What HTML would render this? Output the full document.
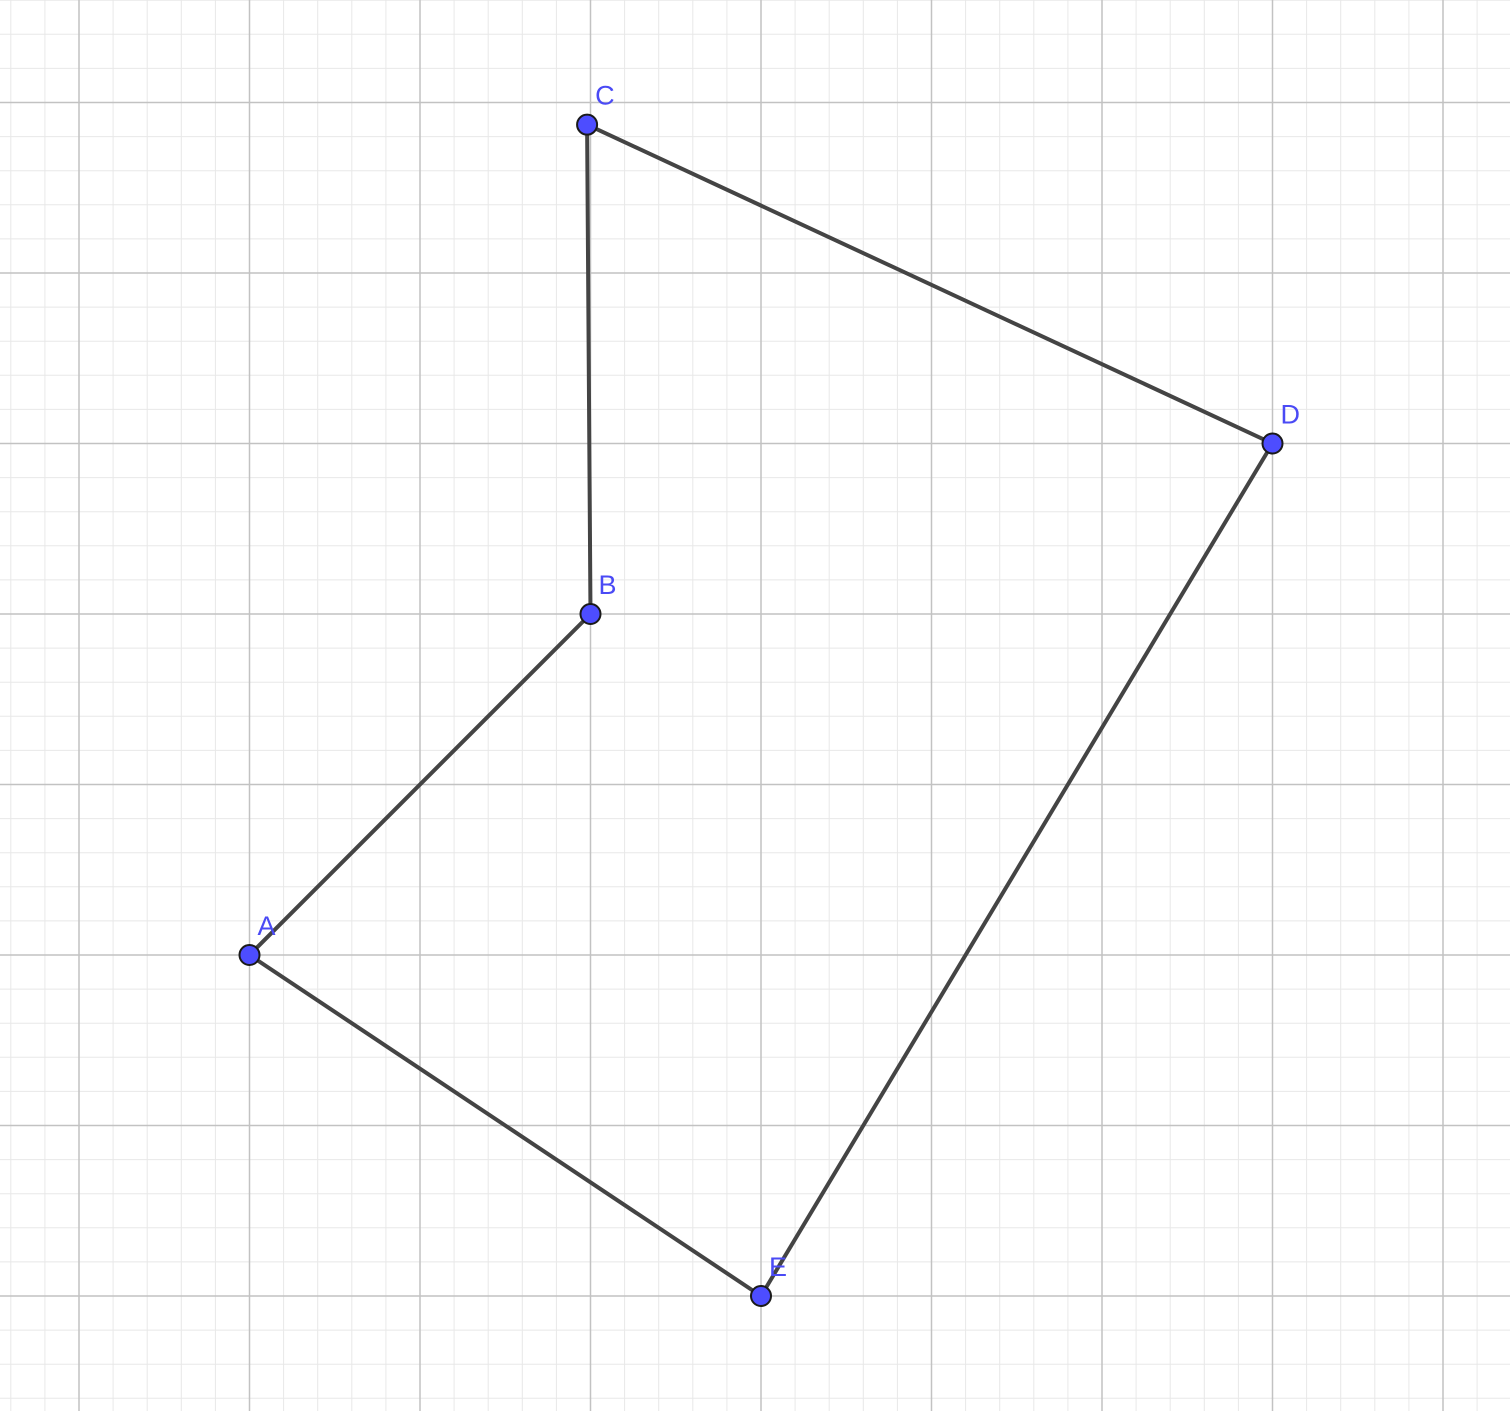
<!DOCTYPE html>
<html>
<head>
<meta charset="utf-8">
<style>
html,body{margin:0;padding:0;background:#fff;}
svg{display:block;}
</style>
</head>
<body>
<svg id="chart" width="1510" height="1411" xmlns="http://www.w3.org/2000/svg">
<g id="grid-minor"></g>
<g id="grid-major"></g>
<g id="segments"></g>
<g id="points"></g>
</svg>
<script>
const pointNames = ["A","B","C","D","E"];
const pointX = [1, 3, 2.98, 7, 4];
const pointY = [2, 4, 6.87, 5.0, 0];
const order = [0,1,2,3,4];

const unit = 170.5;
const originX = 79;
const originY = 1296;
const W = 1510, H = 1411;
const sx = v => originX + v * unit;
const sy = v => originY - v * unit;
const NS = "http://www.w3.org/2000/svg";

function mk(tag, attrs, parent){
  const e = document.createElementNS(NS, tag);
  for (const k in attrs) e.setAttribute(k, attrs[k]);
  parent.appendChild(e);
  return e;
}
const gMinor = document.getElementById("grid-minor");
const gMajor = document.getElementById("grid-major");
for (let i = -5; i <= 50; i++) {
  const v = i / 5;
  const x = sx(v);
  if (x < -1 || x > W + 1) continue;
  const major = i % 5 === 0;
  const l = mk("line", {x1:x, y1:0, x2:x, y2:H, stroke: major ? "#c2c2c2" : "#e8e8e8", "stroke-width": major ? 1.5 : 1}, major ? gMajor : gMinor);
  
  
}
for (let i = -5; i <= 45; i++) {
  const v = i / 5;
  const y = sy(v);
  if (y < -1 || y > H + 1) continue;
  const major = i % 5 === 0;
  const l = mk("line", {x1:0, y1:y, x2:W, y2:y, stroke: major ? "#c2c2c2" : "#e8e8e8", "stroke-width": major ? 1.5 : 1}, major ? gMajor : gMinor);
  
  
}
const gSeg = document.getElementById("segments");
for (let k = 0; k < order.length; k++) {
  const a = order[k], b = order[(k + 1) % order.length];
  const l = mk("line", {x1:sx(pointX[a]), y1:sy(pointY[a]), x2:sx(pointX[b]), y2:sy(pointY[b]), stroke:"#444", "stroke-width":4, "stroke-linecap":"round"}, gSeg);
  
  
}
const gPts = document.getElementById("points");
for (let i = 0; i < pointNames.length; i++) {
  const cx = sx(pointX[i]), cy = sy(pointY[i]);
  const c = mk("circle", {cx:cx, cy:cy, r:10, fill:"#4d4dff", stroke:"#1a1a1a", "stroke-width":2}, gPts);
  
  
  const t = mk("text", {x:cx + 8, y:cy - 20, fill:"#4a4af5", "font-family":"Liberation Sans, sans-serif", "font-size":27}, gPts);
  t.textContent = pointNames[i];
  
  
}
</script>
</body>
</html>
